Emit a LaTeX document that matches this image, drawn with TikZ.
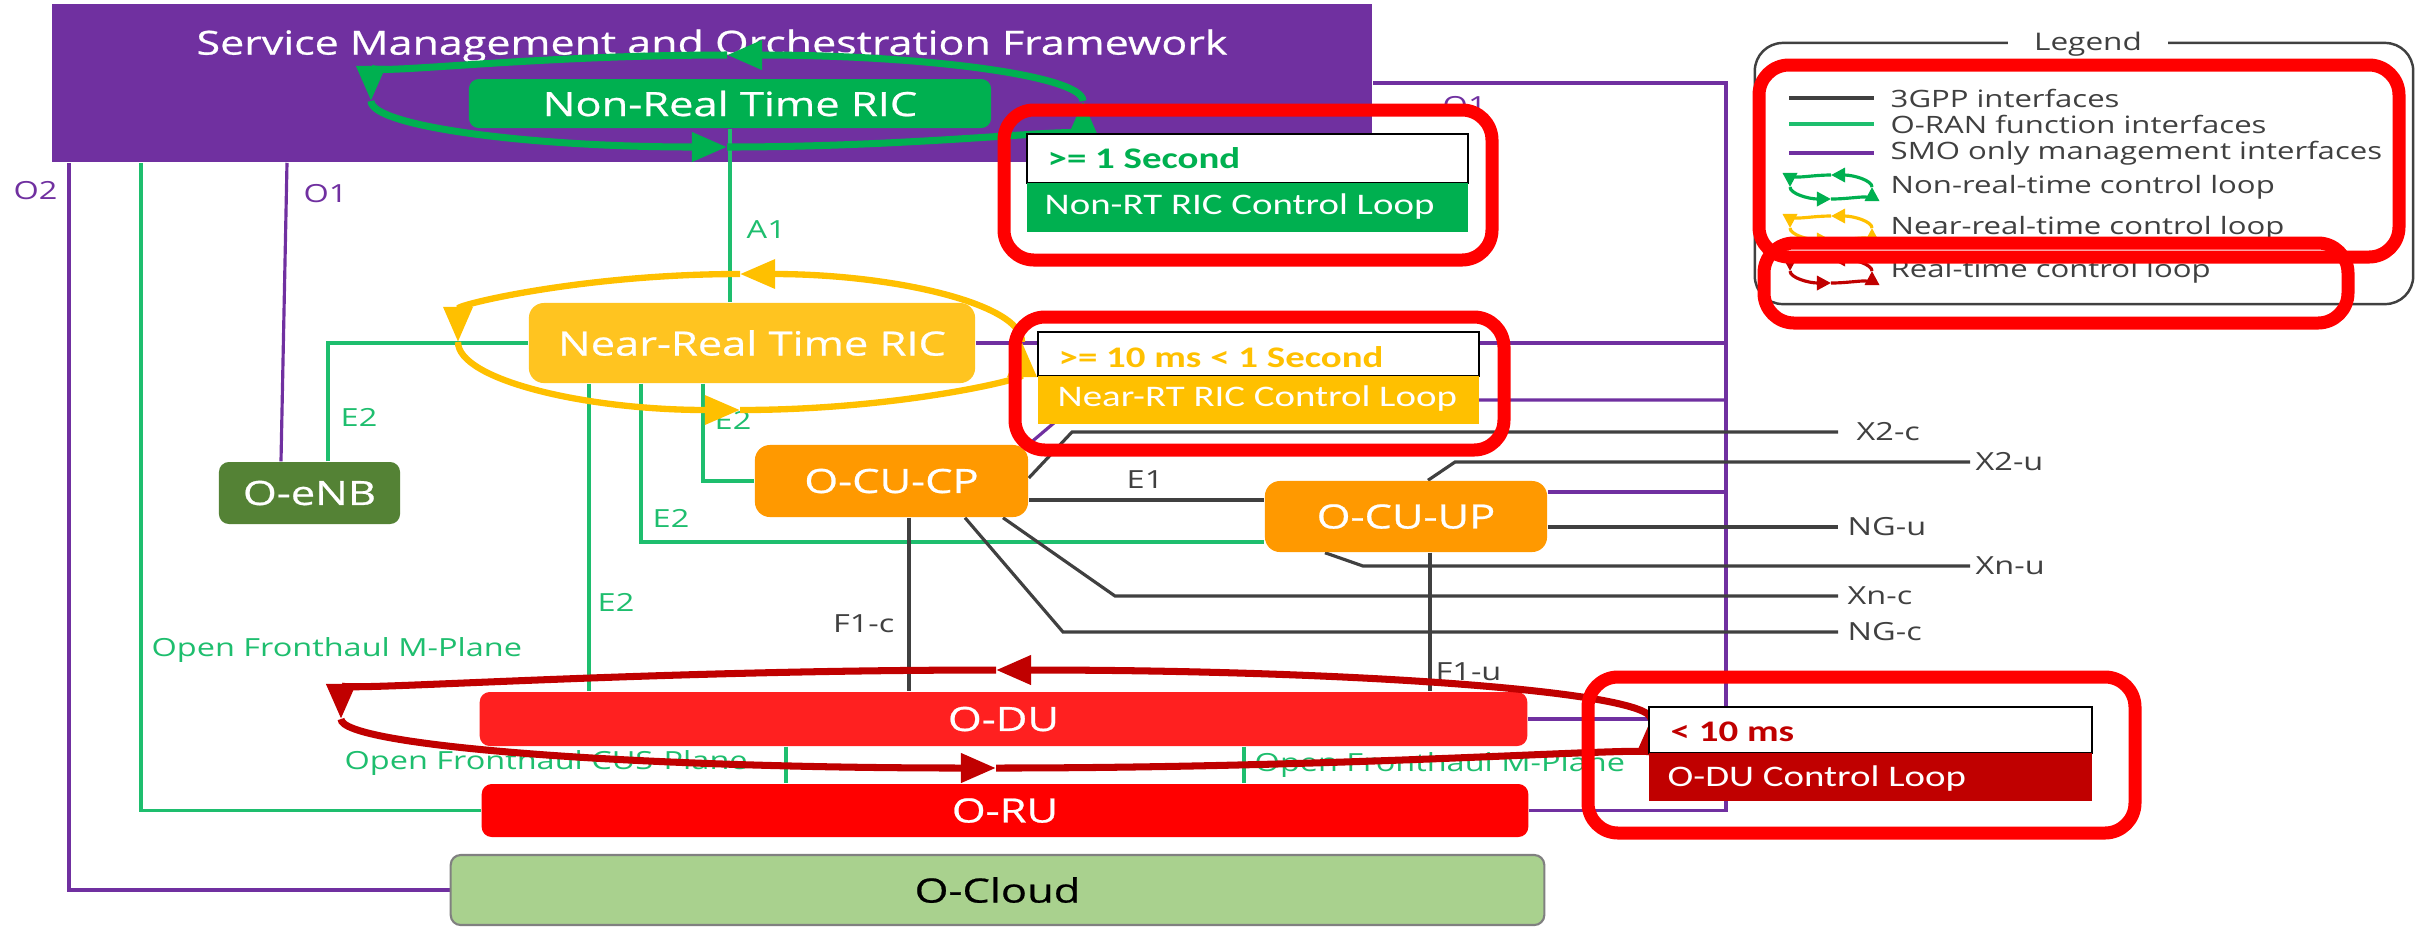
\documentclass[tikz,border=0pt]{standalone}
\usepackage{fontspec}
\setmainfont{Open Sans}[FakeStretch=1.3]
\newfontfamily\medfont{Open Sans}[FakeStretch=1.3, FakeBold=0.7]
\newfontfamily\calfont{Carlito}[FakeStretch=1.3]
\usetikzlibrary{arrows.meta}
\pgfdeclarelayer{bg}
\pgfsetlayers{bg,main}

\definecolor{smo}{RGB}{112,48,160}
\definecolor{nrtgreen}{RGB}{0,176,80}
\definecolor{lgreen}{RGB}{30,190,110}
\definecolor{ricyellow}{RGB}{255,196,32}
\definecolor{loopyellow}{RGB}{255,192,0}
\definecolor{cuorange}{RGB}{255,153,0}
\definecolor{dured}{RGB}{255,32,32}
\definecolor{rured}{RGB}{255,0,0}
\definecolor{cloudgreen}{RGB}{169,209,142}
\definecolor{enbgreen}{RGB}{84,130,53}
\definecolor{lgray}{RGB}{64,64,64}
\definecolor{darkred}{RGB}{192,0,0}
\definecolor{hlred}{RGB}{255,0,0}

\tikzset{
  func/.style={font=\medfont\fontsize{9.5}{11}\selectfont, text=white, inner sep=0pt, rounded corners=0.1cm},
  lbl/.style={font=\fontsize{7.1}{8}\selectfont, inner sep=0pt},
  tgpp/.style={draw=lgray, line width=0.9pt},
  oran/.style={draw=lgreen, line width=0.9pt},
  mgmt/.style={draw=smo, line width=0.9pt},
  ctlgreen/.style={draw=nrtgreen, line width=2pt, -{Triangle[length=10pt,width=8pt]}},
  ctlyellow/.style={draw=loopyellow, line width=1.8pt, -{Triangle[length=10pt,width=8pt]}},
  ctlred/.style={draw=darkred, line width=2pt, -{Triangle[length=10pt,width=8pt]}},
  icgreen/.style={draw=nrtgreen, line width=0.9pt, -{Triangle[length=4pt,width=4pt]}},
  icyellow/.style={draw=loopyellow, line width=0.9pt, -{Triangle[length=4pt,width=4pt]}},
  icred/.style={draw=darkred, line width=0.9pt, -{Triangle[length=4pt,width=4pt]}},
  cbox/.style={inner sep=0pt, minimum width=4.41cm},
  ctext/.style={font=\calfont\fontsize{8.5}{10}\selectfont, inner sep=0pt, anchor=west},
  hl/.style={draw=hlred, line width=3.7pt, rounded corners=0.3cm},
  legtext/.style={font=\fontsize{6.8}{8}\selectfont, text=lgray, inner sep=0pt, anchor=west},
}

\newcommand{\ctlloop}[5]{%
  \pgfmathsetmacro{\lxr}{#2+#4}%
  \pgfmathsetmacro{\lxl}{#2-#4}%
  \pgfmathsetmacro{\lyt}{#3-#5}%
  \pgfmathsetmacro{\lyb}{#3+#5}%
  \pgfmathsetmacro{\lxrk}{#2+0.5523*#4}%
  \pgfmathsetmacro{\lxlk}{#2-0.5523*#4}%
  \pgfmathsetmacro{\lytk}{#3-0.5523*#5}%
  \pgfmathsetmacro{\lybk}{#3+0.5523*#5}%
  \draw[#1] (\lxr,#3) .. controls (\lxr,\lytk) and (\lxrk,\lyt) .. (#2,\lyt);
  \draw[#1] (#2,\lyt) .. controls (\lxlk,\lyt) and (\lxl,\lytk) .. (\lxl,#3);
  \draw[#1] (\lxl,#3) .. controls (\lxl,\lybk) and (\lxlk,\lyb) .. (#2,\lyb);
  \draw[#1] (#2,\lyb) .. controls (\lxrk,\lyb) and (\lxr,\lybk) .. (\lxr,#3);
}

\begin{document}
\begin{tikzpicture}[x=0.01cm,y=-0.01cm]
\useasboundingbox (0,0) rectangle (2417,926);

\begin{pgfonlayer}{bg}
\fill[white] (0,0) rectangle (2417,926);
\node[fill=smo, minimum width=13.2cm, minimum height=1.58cm, inner sep=0pt] (smo) at (712,83) {};
\end{pgfonlayer}
\node[font=\medfont\fontsize{9.4}{11}\selectfont, text=white, inner sep=0pt] (smot) at (712,46) {Service Management and Orchestration Framework};

% function nodes
\node[func, fill=nrtgreen, minimum width=5.22cm, minimum height=0.49cm] (nonrt) at (730,103.5) {Non-Real Time RIC};
\node[func, fill=ricyellow, minimum width=4.46cm, minimum height=0.80cm, rounded corners=0.15cm] (nearrt) at (752,343) {Near-Real Time RIC};
\node[func, fill=enbgreen, minimum width=1.81cm, minimum height=0.62cm] (enb) at (309.5,493) {O-eNB};
\node[func, fill=cuorange, minimum width=2.73cm, minimum height=0.72cm, rounded corners=0.15cm] (cucp) at (891.5,481) {O-CU-CP};
\node[func, fill=cuorange, minimum width=2.82cm, minimum height=0.71cm, rounded corners=0.15cm] (cuup) at (1406,516.5) {O-CU-UP};
\node[func, fill=dured, minimum width=10.47cm, minimum height=0.54cm] (odu) at (1003.5,719) {O-DU};
\node[func, fill=rured, minimum width=10.46cm, minimum height=0.53cm] (oru) at (1005,810.5) {O-RU};
\node[func, fill=cloudgreen, draw=gray, line width=0.6pt, text=black, minimum width=10.93cm, minimum height=0.70cm] (ocloud) at (997.5,890) {O-Cloud};

\begin{pgfonlayer}{bg}
% SMO management (purple)
\draw[mgmt] (smo.south -| 287,0) -- (enb.north -| 281,0);
\draw[mgmt] (smo.south -| 69,0) |- (ocloud.west);
\draw[mgmt] (smo.east |- 0,83) -| (oru.east -| 1726,0) -- (oru.east);
\draw[mgmt] (nearrt.east) -- (nearrt.east -| 1726,0);
\draw[mgmt] (cucp.north east) -- (1081,400) -- (1726,400);
\draw[mgmt] (cuup.east |- 0,492) -- (1726,492);
\draw[mgmt] (odu.east) -- (odu.east -| 1726,0);
% O-RAN (green)
\draw[oran] (nonrt.south) -- (nonrt.south |- nearrt.north);
\draw[oran] (smo.south -| 141,0) |- (oru.west);
\draw[oran] (enb.north -| 328,0) |- (nearrt.west);
\draw[oran] (nearrt.south -| 703,0) |- (cucp.west);
\draw[oran] (nearrt.south -| 641,0) |- (cuup.west |- 0,542);
\draw[oran] (nearrt.south -| 589,0) -- (odu.north -| 589,0);
\draw[oran] (odu.south -| 786,0) -- (oru.north -| 786,0);
\draw[oran] (odu.south -| 1244,0) -- (oru.north -| 1244,0);
% 3GPP (gray)
\draw[tgpp] (cucp.east |- 0,500) -- (cuup.west |- 0,500);
\draw[tgpp] (cucp.south -| 909,0) -- (odu.north -| 909,0);
\draw[tgpp] (cuup.south -| 1430,0) -- (odu.north -| 1430,0);
\draw[tgpp] (cucp.east |- 0,478) -- (1072,432) -- (1838,432);
\draw[tgpp] (cuup.north -| 1428,0) -- (1455,462) -- (1970,462);
\draw[tgpp] (cuup.east |- 0,527) -- (1838,527);
\draw[tgpp] (cuup.south -| 1325,0) -- (1363,566) -- (1970,566);
\draw[tgpp] (cucp.south -| 1003,0) -- (1115,596) -- (1838,596);
\draw[tgpp] (cucp.south -| 965,0) -- (1063,632) -- (1838,632);
\end{pgfonlayer}

% labels
\node[lbl, text=smo, anchor=west] (lo2) at (13,191) {O2};
\node[lbl, text=smo, anchor=west] (lo1a) at (303,194) {O1};
\node[lbl, text=smo, anchor=west] (lo1b) at (1442,106) {O1};
\node[lbl, text=lgreen, anchor=west] (la1) at (746,230) {A1};
\node[lbl, text=lgreen, anchor=west] (le2a) at (340,417) {E2};
\node[lbl, text=lgreen, anchor=west] (le2b) at (714,420) {E2};
\node[lbl, text=lgreen, anchor=west] (le2c) at (652,518) {E2};
\node[lbl, text=lgreen, anchor=west] (le2d) at (597,602) {E2};
\node[lbl, text=lgray] (le1) at (1145,480) {E1};
\node[lbl, text=lgray, anchor=east] (lf1c) at (895,624) {F1-c};
\node[lbl, text=lgray, anchor=west] (lf1u) at (1435,672) {F1-u};
\node[lbl, text=lgray, anchor=west] (lx2c) at (1856,432) {X2-c};
\node[lbl, text=lgray, anchor=west] (lx2u) at (1975,462) {X2-u};
\node[lbl, text=lgray, anchor=west] (lngu) at (1847,527) {NG-u};
\node[lbl, text=lgray, anchor=west] (lxnu) at (1975,566) {Xn-u};
\node[lbl, text=lgray, anchor=west] (lxnc) at (1847,596) {Xn-c};
\node[lbl, text=lgray, anchor=west] (lngc) at (1847,632) {NG-c};
\node[lbl, text=lgreen, anchor=west] (lofm1) at (151,650) {Open Fronthaul M-Plane};
\node[lbl, text=lgreen, anchor=west] (lofc) at (344,763) {Open Fronthaul CUS-Plane};
\node[lbl, text=lgreen, anchor=west] (lofm2) at (1254,765) {Open Fronthaul M-Plane};

% control loops
\ctlloop{ctlgreen}{727}{101}{356}{46}
\ctlloop{ctlyellow}{740}{342}{282}{68}
\ctlloop{ctlred}{996}{719}{655}{49}

% callout boxes
\node[cbox, draw=black, line width=0.6pt, fill=white, minimum height=0.49cm] (c1top) at (1247.5,158.5) {};
\node[cbox, fill=nrtgreen, minimum height=0.49cm] (c1bot) at (1247.5,207.5) {};
\node[ctext, text=nrtgreen, font=\calfont\bfseries\fontsize{8.5}{10}\selectfont] (c1t) at (1047,158) {>= 1 Second};
\node[ctext, text=white] (c1b) at (1044,207) {Non-RT RIC Control Loop};

\node[cbox, draw=black, line width=0.6pt, fill=white, minimum height=0.44cm] (c2top) at (1258.5,354) {};
\node[cbox, fill=loopyellow, minimum height=0.48cm] (c2bot) at (1258.5,400) {};
\node[ctext, text=loopyellow, font=\calfont\bfseries\fontsize{8.5}{10}\selectfont] (c2t) at (1058,357) {>= 10 ms < 1 Second};
\node[ctext, text=white] (c2b) at (1057,399) {Near-RT RIC Control Loop};

\node[cbox, draw=black, line width=0.6pt, fill=white, minimum width=4.43cm, minimum height=0.46cm] (c3top) at (1870.5,730) {};
\node[cbox, fill=darkred, minimum width=4.43cm, minimum height=0.48cm] (c3bot) at (1870.5,777) {};
\node[ctext, text=darkred, font=\calfont\bfseries\fontsize{8.5}{10}\selectfont] (c3t) at (1670,732) {< 10 ms};
\node[ctext, text=white] (c3b) at (1667,779) {O-DU Control Loop};

% legend
\node[draw=lgray, line width=0.7pt, rounded corners=0.28cm, minimum width=6.58cm, minimum height=2.61cm, inner sep=0pt] (legend) at (2084,173.5) {};
\node[fill=white, minimum width=1.59cm, minimum height=0.38cm, inner sep=0pt, font=\fontsize{6.9}{8}\selectfont, text=lgray] (legt) at (2088,44) {Legend};
\draw[tgpp, line width=1.2pt] (1789,98) -- (1874,98);
\draw[oran, line width=1.2pt] (1789,124) -- (1874,124);
\draw[mgmt, line width=1.2pt] (1789,153) -- (1874,153);
\node[legtext] (lg1) at (1890,98) {3GPP interfaces};
\node[legtext] (lg2) at (1890,124) {O-RAN function interfaces};
\node[legtext] (lg3) at (1890,153) {SMO only management interfaces};
\ctlloop{icgreen}{1831}{187}{41}{12}
\ctlloop{icyellow}{1831}{228}{41}{12}
\ctlloop{icred}{1831}{271}{41}{12}
\node[legtext] (lg4) at (1890,187) {Non-real-time control loop};
\node[legtext] (lg5) at (1890,228) {Near-real-time control loop};
\node[legtext] (lg6) at (1890,271) {Real-time control loop};

% red highlight frames
\draw[hl] (1004,110) rectangle (1492,260);
\draw[hl] (1015,317) rectangle (1504,450);
\draw[hl] (1588,677) rectangle (2135,833);
\draw[hl] (1759,65) rectangle (2399,257);
\draw[hl] (1764,243) rectangle (2348,323);
\end{tikzpicture}
\end{document}
